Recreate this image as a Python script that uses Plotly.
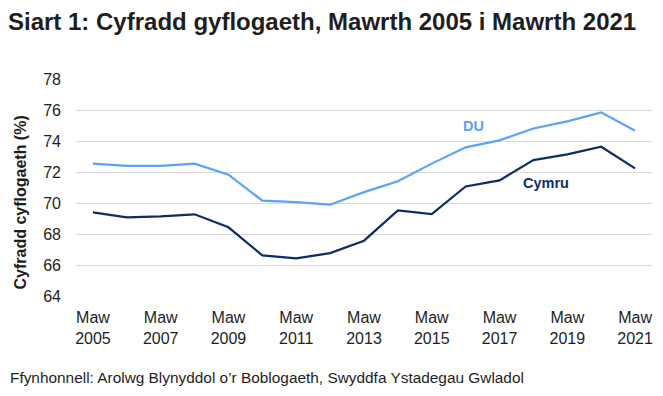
import plotly.graph_objects as go

years = [str(y) for y in range(2005, 2022)]
du = [72.54, 72.4, 72.4, 72.54, 71.83, 70.15, 70.06, 69.89, 70.7, 71.4,
      72.54, 73.59, 74.04, 74.81, 75.27, 75.85, 74.66]
cymru = [69.39, 69.07, 69.14, 69.27, 68.43, 66.62, 66.43, 66.77, 67.57, 69.52,
         69.29, 71.07, 71.46, 72.77, 73.14, 73.63, 72.23]
tick_years = [str(y) for y in range(2005, 2022, 2)]
tick_text = ["Maw<br>" + y for y in tick_years]

FONT = "Liberation Sans, Arial, sans-serif"
LIGHT = "#5AA2F6"
DARK = "#0D2D66"
TXT = "#1e1e1e"

L, R, T, B = 76, 11, 79, 100
PW, PH = 663 - L - R, 396 - T - B

fig = go.Figure()
fig.add_trace(go.Scatter(x=years, y=du, mode="lines", name="DU",
                         line=dict(color=LIGHT, width=2.2), showlegend=False,
                         hoverinfo="skip"))
fig.add_trace(go.Scatter(x=years, y=cymru, mode="lines", name="Cymru",
                         line=dict(color=DARK, width=2.2), showlegend=False,
                         hoverinfo="skip"))

fig.add_annotation(x=11.22, y=75.0, text="<b>DU</b>", showarrow=False,
                   font=dict(family=FONT, size=14.5, color=LIGHT))
fig.add_annotation(x=13.37, y=71.31, text="<b>Cymru</b>", showarrow=False,
                   font=dict(family=FONT, size=14.5, color=DARK))

fig.update_layout(
    width=663, height=396,
    margin=dict(l=L, r=R, t=T, b=B, autoexpand=False),
    paper_bgcolor="white", plot_bgcolor="white",
    font=dict(family=FONT, size=16, color=TXT),
    title=dict(text="<b>Siart 1: Cyfradd gyflogaeth, Mawrth 2005 i Mawrth 2021</b>",
               x=8 / 663, xanchor="left", y=1 - 22 / 396, yanchor="middle",
               font=dict(family=FONT, size=24, color=TXT)),
    xaxis=dict(type="category", categoryorder="array", categoryarray=years,
               range=[-0.5, 16.5], tickmode="array", tickvals=tick_years,
               ticktext=tick_text, showgrid=False, zeroline=False,
               showline=False, ticks="", automargin=False,
               ticklabelstandoff=10,
               tickfont=dict(size=16, color=TXT)),
    yaxis=dict(range=[64, 78], dtick=2, showgrid=True, gridcolor="#d9d9d9",
               gridwidth=1, zeroline=False, showline=False, ticks="",
               automargin=False, ticklabelstandoff=14,
               tickfont=dict(size=16, color=TXT)),
)

fig.add_annotation(xref="paper", yref="paper", x=(19.5 - L) / PW,
                   y=(396 - B - 203) / PH, textangle=-90,
                   xanchor="center", yanchor="middle", showarrow=False,
                   text="<b>Cyfradd cyflogaeth (%)</b>",
                   font=dict(family=FONT, size=16, color=TXT))

fig.add_annotation(xref="paper", yref="paper", x=(8 - L) / PW,
                   y=-(377 - (396 - B)) / PH,
                   xanchor="left", yanchor="middle", showarrow=False,
                   text="Ffynhonnell: Arolwg Blynyddol o’r Boblogaeth, Swyddfa Ystadegau Gwladol",
                   font=dict(family=FONT, size=15.4, color=TXT))

fig.write_html("out.html", config={"displayModeBar": False},
               post_script="document.body.style.margin='0';document.body.style.overflow='hidden';")
